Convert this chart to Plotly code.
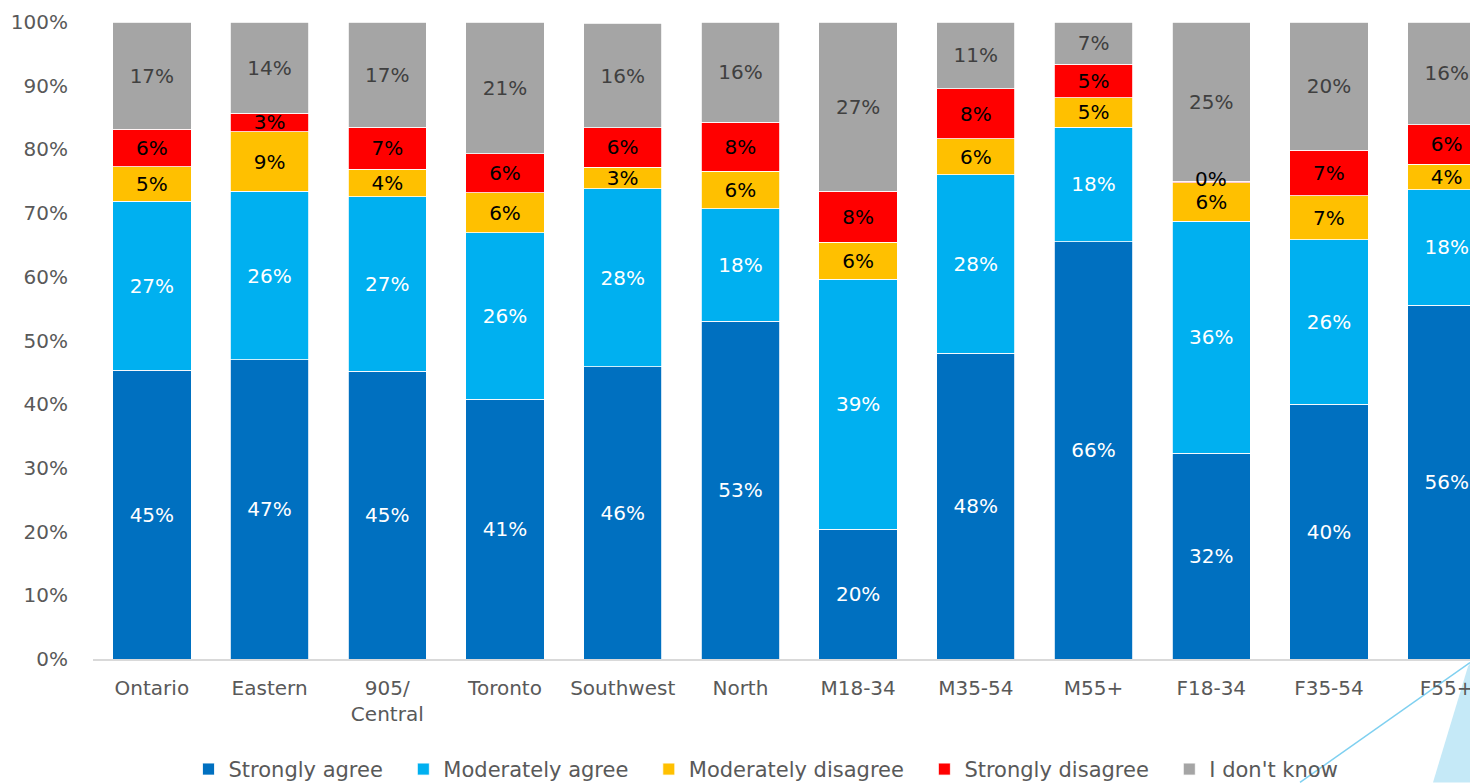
import plotly.graph_objects as go

categories = ["Ontario", "Eastern", "905/<br>Central", "Toronto", "Southwest", "North",
              "M18-34", "M35-54", "M55+", "F18-34", "F35-54", "F55+"]

strongly_agree = [45.3, 47.0, 45.2, 40.8, 45.9, 53.0, 20.4, 48.0, 65.5, 32.3, 40.0, 55.5]
moderately_agree = [26.6, 26.4, 27.4, 26.1, 27.9, 17.7, 39.2, 28.0, 18.0, 36.4, 25.8, 18.2]
moderately_disagree = [5.4, 9.4, 4.3, 6.3, 3.4, 5.9, 5.8, 5.7, 4.6, 6.1, 6.9, 4.0]
strongly_disagree = [5.9, 2.9, 6.6, 6.1, 6.2, 7.7, 8.0, 7.8, 5.3, 0.2, 7.2, 6.2]
dont_know = [16.8, 14.3, 16.5, 20.7, 16.4, 15.7, 26.6, 10.5, 6.6, 25.0, 20.1, 16.1]

series = [
    ("Strongly agree", strongly_agree, "#0070C0", "white"),
    ("Moderately agree", moderately_agree, "#00B0F0", "white"),
    ("Moderately disagree", moderately_disagree, "#FFC000", "black"),
    ("Strongly disagree", strongly_disagree, "#FF0000", "black"),
    ("I don't know", dont_know, "#A5A5A5", "#404040"),
]

FONT = "DejaVu Sans"
PAD = "\u00a0\u00a0\u200a"


def pct(v):
    return f"{int(v + 0.5)}%"


fig = go.Figure()
x_idx = list(range(len(categories)))
base = [0.0] * len(categories)
small_labels = []
for k, (name, vals, color, tcolor) in enumerate(series):
    texts = []
    for i, v in enumerate(vals):
        if v < 1:
            texts.append("")
            small_labels.append((i, base[i] + v / 2, pct(v), tcolor))
        else:
            texts.append(pct(v))
    fig.add_trace(go.Bar(
        x=x_idx, y=vals,
        name=name + (PAD if k < len(series) - 1 else ""),
        marker=dict(color=color, line=dict(color="white", width=0.8)),
        text=texts,
        textposition="inside", insidetextanchor="middle",
        constraintext="none",
        textfont=dict(family=FONT, size=20, color=tcolor),
        hoverinfo="skip",
    ))
    base = [b + v for b, v in zip(base, vals)]

W, H = 1470, 783
L, T, B = 93, 22, 123.5
pw, ph = W - L, H - T - B


def px(xp):
    return (xp - L) / pw


def py(yp):
    return (H - B - yp) / ph


annotations = [
    dict(x=i, y=y + 0.5, xref="x", yref="y", text=t, showarrow=False,
         font=dict(family=FONT, size=20, color=c))
    for i, y, t, c in small_labels
]

fig.update_layout(
    width=W, height=H,
    barmode="stack", bargap=0.335,
    plot_bgcolor="white", paper_bgcolor="white",
    margin=dict(l=L, r=0, t=T, b=B, pad=0, autoexpand=False),
    font=dict(family=FONT, size=20, color="#595959"),
    xaxis=dict(
        tickmode="array", tickvals=x_idx, ticktext=categories,
        range=[-0.5, 11.198], showgrid=False, zeroline=False,
        showline=True, linecolor="#D9D9D9", linewidth=2,
        ticks="", ticklabelstandoff=10, ticklabeloverflow="allow",
        tickfont=dict(family=FONT, size=20, color="#595959"),
    ),
    yaxis=dict(
        range=[0, 100], tickvals=list(range(0, 101, 10)),
        ticktext=[f"{v}%" for v in range(0, 101, 10)],
        showgrid=False, zeroline=False, showline=False,
        ticks="", ticklabelstandoff=24,
        tickfont=dict(family=FONT, size=20, color="#595959"),
    ),
    legend=dict(
        orientation="h", traceorder="normal",
        x=px(766), xanchor="center", y=py(770), yanchor="middle",
        font=dict(family=FONT, size=21, color="#595959"),
        itemwidth=30, bgcolor="rgba(0,0,0,0)",
    ),
    showlegend=True,
    annotations=annotations,
    shapes=[
        dict(type="path", xref="paper", yref="paper",
             path=f"M {px(1433)} {py(783)} L {px(1468)} {py(667)} L {px(1470)} {py(664)} L {px(1470)} {py(783)} Z",
             fillcolor="#C5E9F7", line=dict(width=0), layer="below"),
        dict(type="line", xref="paper", yref="paper",
             x0=px(1470), y0=py(663), x1=px(1300), y1=py(783),
             line=dict(color="#7FD0F0", width=1.5), layer="below"),
    ],
)

fig.write_html(
    "out.html",
    config={"displayModeBar": False},
    post_script="document.body.style.margin='0';"
                "document.body.style.overflow='hidden';"
                "document.documentElement.style.overflow='hidden';",
)
